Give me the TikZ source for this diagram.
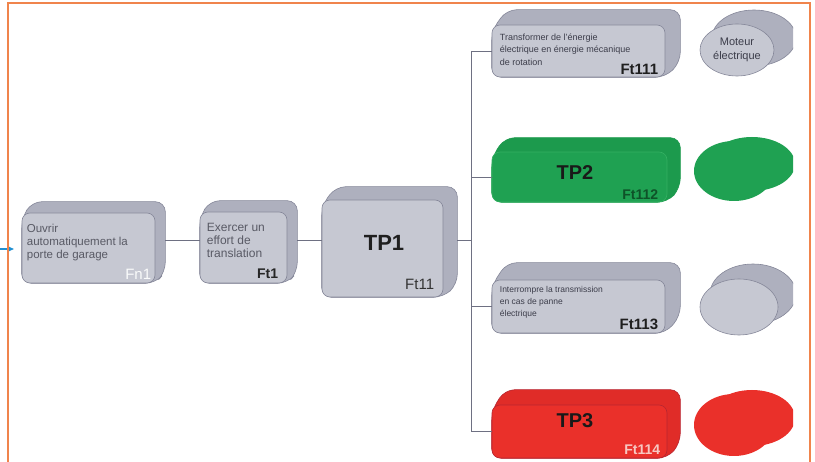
\documentclass[tikz,border=0pt]{standalone}
\usepackage{fontspec}
\setmainfont{Liberation Sans}
\usetikzlibrary{shapes.geometric,calc,arrows.meta}
\pgfdeclarelayer{bg}
\pgfsetlayers{bg,main}

\definecolor{frameorange}{HTML}{F0844C}
\definecolor{inblue}{HTML}{2290D2}
\definecolor{grayface}{HTML}{C6C8D2}
\definecolor{grayback}{HTML}{AEB0BE}
\definecolor{grayedge}{HTML}{858799}
\definecolor{linkgray}{HTML}{6E7082}
\definecolor{txtgray}{HTML}{3C3D4A}
\definecolor{greenface}{HTML}{1FA152}
\definecolor{greenback}{HTML}{1C9A4D}
\definecolor{greenedge}{HTML}{34B062}
\definecolor{greentxt}{HTML}{0E5228}
\definecolor{redface}{HTML}{EA302A}
\definecolor{redback}{HTML}{E02C28}
\definecolor{rededge}{HTML}{B82630}
\definecolor{pinktxt}{HTML}{F7C8C2}

% extruded back part of a block: #1 front node, #2/#3 offset, #4 fill, #5 edge
\newcommand\blockback[5]{%
  \begin{pgfonlayer}{bg}
    \path[fill=#4, draw=#5, line width=0.6pt, rounded corners=10pt]
      ([yshift=-6pt]#1.north west)
      -- ([shift={(#2pt,#3pt)}]#1.north west)
      -- ([shift={(#2pt,#3pt)}]#1.north east)
      -- ([shift={(#2pt,#3pt)}]#1.south east)
      -- (#1.south east) -- (#1.south west) -- cycle;
  \end{pgfonlayer}}

\begin{document}
\begin{tikzpicture}[x=1pt,y=-1pt,
  face/.style={draw=grayedge, fill=grayface, line width=0.6pt,
    rounded corners=8pt, inner sep=0pt},
  greenbox/.style={face, draw=greenedge, fill=greenface},
  redbox/.style={face, draw=rededge, fill=redface},
  smalltxt/.style={anchor=north west, align=left, inner sep=0pt, text=txtgray},
  idtxt/.style={anchor=south east, inner sep=0pt},
  conn/.style={draw=linkgray, line width=0.8pt},
  oval/.style={ellipse, inner sep=0pt, line width=0.6pt},
]
\useasboundingbox (0,0) rectangle (815,462);

% ---- left chain ----
\node[face, minimum width=133pt, minimum height=70pt] (fn1) at (88.5,248) {};
\blockback{fn1}{10}{11}{grayback}{grayedge}
\node[smalltxt, font=\fontsize{11.5}{13}\selectfont, text=txtgray!85] (fn1t)
  at ([shift={(5pt,-11pt)}]fn1.north west) {Ouvrir\\automatiquement la\\porte de garage};
\node[idtxt, font=\fontsize{15}{15}\selectfont, text=white!92!grayface] (fn1id)
  at ([shift={(-4pt,4pt)}]fn1.south east) {Fn1};

\node[face, minimum width=87pt, minimum height=71pt] (ft1) at (243.5,247.5) {};
\blockback{ft1}{10}{11}{grayback}{grayedge}
\node[smalltxt, font=\fontsize{12}{13}\selectfont, text=txtgray!85] (ft1t)
  at ([shift={(7pt,-11pt)}]ft1.north west) {Exercer un\\effort de\\translation};
\node[idtxt, font=\bfseries\fontsize{14}{14}\selectfont, text=black!85] (ft1id)
  at ([shift={(-9pt,4pt)}]ft1.south east) {Ft1};

\node[face, minimum width=121pt, minimum height=97pt] (tp1) at (382.5,248.5) {};
\blockback{tp1}{14}{13}{grayback}{grayedge}
\node[font=\bfseries\fontsize{22}{22}\selectfont, text=black!88, inner sep=0pt] (tp1t)
  at (384,243) {TP1};
\node[idtxt, font=\fontsize{15}{15}\selectfont, text=black!80] (tp1id)
  at ([shift={(-9pt,7pt)}]tp1.south east) {Ft11};

% ---- right column ----
\node[face, minimum width=173pt, minimum height=52pt] (ft111) at (578.5,51) {};
\blockback{ft111}{15}{15}{grayback}{grayedge}
\node[smalltxt, font=\fontsize{9}{12.5}\selectfont] (ft111t)
  at ([shift={(8pt,-8.5pt)}]ft111.north west)
  {Transformer de l'énergie\\électrique en énergie mécanique\\de rotation};
\node[idtxt, font=\bfseries\fontsize{15}{15}\selectfont, text=black!88] (ft111id)
  at ([shift={(-7pt,2.5pt)}]ft111.south east) {Ft111};

\node[greenbox, minimum width=175pt, minimum height=50pt] (tp2) at (579.5,177) {};
\blockback{tp2}{13}{14}{greenback}{greenback}
\node[font=\bfseries\fontsize{20}{20}\selectfont, text=black!90, inner sep=0pt] (tp2t)
  at (575,173) {TP2};
\node[idtxt, font=\bfseries\fontsize{14}{14}\selectfont, text=greentxt] (tp2id)
  at ([shift={(-9pt,2.5pt)}]tp2.south east) {Ft112};

\node[face, minimum width=173pt, minimum height=53pt] (ft113) at (578.5,306.5) {};
\blockback{ft113}{15}{17}{grayback}{grayedge}
\node[smalltxt, font=\fontsize{8.5}{12}\selectfont] (ft113t)
  at ([shift={(8pt,-6pt)}]ft113.north west)
  {Interrompre la transmission\\en cas de panne\\électrique};
\node[idtxt, font=\bfseries\fontsize{15}{15}\selectfont, text=black!88] (ft113id)
  at ([shift={(-7pt,3pt)}]ft113.south east) {Ft113};

\node[redbox, minimum width=175pt, minimum height=53pt] (tp3) at (579.5,431.5) {};
\blockback{tp3}{13}{15}{redback}{rededge}
\node[font=\bfseries\fontsize{20}{20}\selectfont, text=black!90, inner sep=0pt] (tp3t)
  at (575,421) {TP3};
\node[idtxt, font=\bfseries\fontsize{14}{14}\selectfont, text=pinktxt] (tp3id)
  at ([shift={(-7pt,3pt)}]tp3.south east) {Ft114};

% ---- solution ovals ----
\begin{scope}
  \clip (690,0) rectangle (793,462);
  \node[oval, fill=grayback, draw=grayedge, minimum width=84pt, minimum height=56pt] (m1b) at (754,38) {};
  \node[oval, fill=grayface, draw=grayedge, minimum width=74pt, minimum height=52pt,
        font=\fontsize{11}{14.5}\selectfont, text=txtgray, align=center] (m1) at (737,50)
        {Moteur\\électrique};

  \node[oval, fill=greenface, minimum width=86pt, minimum height=54pt] (m2b) at (752,164) {};
  \node[oval, fill=greenface, minimum width=80pt, minimum height=60pt] (m2) at (734,171) {};

  \node[oval, fill=grayback, draw=grayedge, minimum width=86pt, minimum height=60pt] (m3b) at (753,294) {};
  \node[oval, fill=grayface, draw=grayedge, minimum width=78pt, minimum height=56pt] (m3) at (739,307) {};

  \node[oval, fill=redface, minimum width=86pt, minimum height=56pt] (m4b) at (752,418) {};
  \node[oval, fill=redface, minimum width=80pt, minimum height=62pt] (m4) at (734,425) {};
\end{scope}

% ---- connectors ----
\coordinate (lvl) at (0,240);
\coordinate (bus) at (471,0);
\draw[conn] ([xshift=10pt]fn1.east |- lvl) -- (ft1.west |- lvl);
\draw[conn] ([xshift=10pt]ft1.east |- lvl) -- (tp1.west |- lvl);
\draw[conn] ([xshift=14pt]tp1.east |- lvl) -- (bus |- lvl);
\draw[conn] (bus |- ft111.west) -- (bus |- tp3.west);
\draw[conn] (bus |- ft111.west) -- (ft111.west);
\draw[conn] (bus |- tp2.west) -- (tp2.west);
\draw[conn] (bus |- ft113.west) -- (ft113.west);
\draw[conn] (bus |- tp3.west) -- (tp3.west);

% ---- input arrow and frame ----
\coordinate (inS) at (0,249);
\coordinate (inE) at (14,249);
\draw[inblue, line width=1.4pt, -{Triangle[length=7pt,width=6pt]}] (inS) -- (inE);

\coordinate (frBL) at (8,462);
\coordinate (frTL) at (8,3);
\coordinate (frTR) at (810,3);
\coordinate (frBR) at (810,462);
\draw[frameorange, line width=2pt] (frBL) -- (frTL) -- (frTR) -- (frBR);
\end{tikzpicture}
\end{document}
